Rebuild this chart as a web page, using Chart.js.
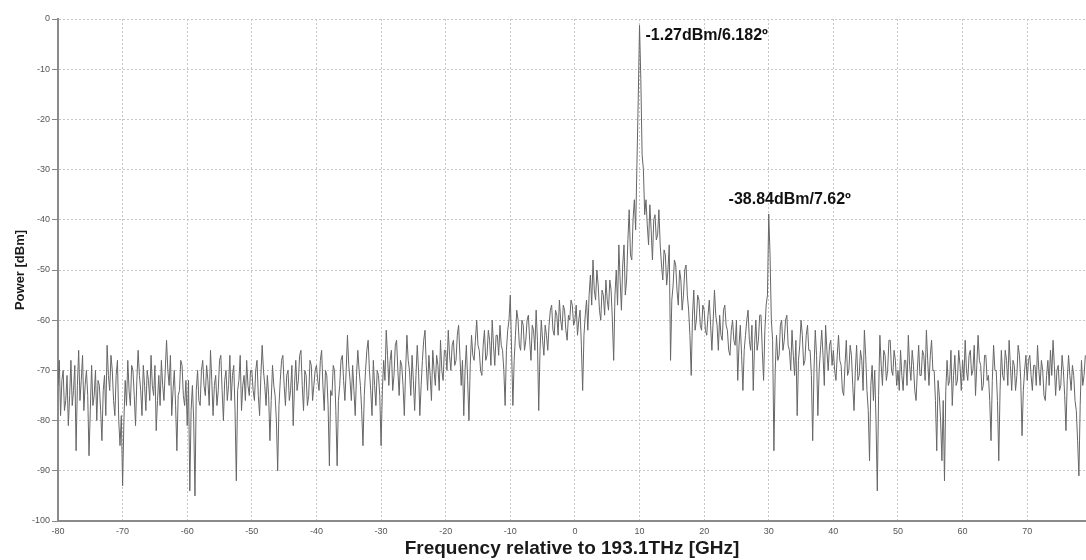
<!DOCTYPE html>
<html>
<head>
<meta charset="utf-8">
<title>Spectrum</title>
<script src="https://cdn.jsdelivr.net/npm/chart.js@4"></script>
<style>
  html, body { margin: 0; padding: 0; background: #fff; }
  #wrap { width: 1086px; height: 560px; }
</style>
</head>
<body>
<div id="wrap"><canvas id="spectrum" width="1086" height="560"></canvas></div>
<script>
// Sweep start and bin spacing (GHz, relative to 193.1 THz)
const freqStart = -80;
const freqStep = 0.2;

// Power per bin in dBm, one row per 10 GHz
const powerDbm = [
  -73, -68, -79, -72, -70, -78, -76, -71, -81, -75, -68, -77, -74, -69, -86, -73, -66, -76, -72, -67, -78, -73, -70, -75, -87, -78, -69, -77, -75, -70, -80, -72, -73, -78, -84, -74, -71, -79, -65, -71, -74, -67, -70, -76, -79, -71, -68, -80, -85, -79,
  -93, -80, -72, -77, -68, -74, -77, -69, -70, -75, -81, -72, -66, -71, -74, -79, -69, -73, -78, -70, -72, -76, -67, -73, -75, -69, -82, -76, -71, -77, -68, -73, -76, -70, -64, -70, -73, -67, -79, -74, -70, -77, -86, -75, -74, -68, -69, -75, -77, -72,
  -81, -72, -94, -78, -73, -80, -95, -74, -70, -76, -77, -70, -68, -73, -75, -69, -72, -77, -66, -72, -79, -73, -71, -77, -74, -68, -67, -74, -80, -72, -70, -76, -73, -67, -76, -71, -69, -78, -92, -74, -72, -67, -78, -73, -71, -76, -68, -73, -75, -70,
  -70, -74, -76, -70, -68, -75, -79, -71, -65, -70, -73, -77, -71, -75, -84, -76, -69, -73, -75, -80, -90, -77, -72, -68, -67, -73, -77, -71, -70, -76, -74, -69, -81, -73, -68, -74, -72, -67, -66, -73, -78, -70, -71, -77, -75, -68, -69, -76, -73, -70,
  -69, -72, -74, -68, -66, -73, -78, -70, -71, -77, -89, -74, -75, -69, -70, -78, -89, -76, -73, -68, -67, -72, -76, -70, -63, -69, -72, -76, -69, -74, -79, -71, -66, -70, -73, -78, -85, -75, -70, -66, -64, -70, -74, -79, -68, -73, -77, -70, -71, -75,
  -85, -74, -68, -72, -62, -67, -73, -68, -66, -74, -71, -65, -64, -70, -75, -68, -69, -73, -79, -70, -63, -68, -70, -75, -67, -72, -78, -71, -65, -70, -79, -73, -68, -64, -62, -69, -74, -67, -71, -76, -66, -70, -73, -67, -69, -74, -64, -70, -72, -66,
  -66, -70, -62, -67, -70, -65, -64, -69, -68, -63, -61, -67, -73, -68, -79, -70, -65, -72, -80, -69, -63, -67, -68, -64, -60, -65, -66, -70, -71, -65, -62, -68, -67, -62, -64, -69, -60, -65, -69, -63, -63, -67, -61, -65, -66, -70, -77, -66, -62, -60,
  -55, -66, -77, -68, -63, -58, -60, -65, -66, -60, -61, -66, -64, -60, -59, -64, -68, -61, -62, -66, -58, -64, -78, -66, -60, -64, -67, -61, -63, -66, -61, -58, -57, -62, -63, -58, -59, -63, -56, -60, -62, -57, -58, -62, -64, -59, -60, -56, -57, -61,
  -60, -57, -63, -60, -58, -65, -74, -63, -59, -56, -62, -55, -51, -57, -48, -54, -56, -50, -53, -58, -60, -54, -55, -59, -52, -56, -58, -52, -54, -60, -68, -55, -50, -57, -45, -52, -58, -49, -45, -55, -52, -44, -38, -47, -48, -40, -36, -42, -29, -16,
  -1.27, -12, -27, -30, -39, -36, -41, -45, -37, -42, -48, -40, -39, -44, -43, -38, -45, -49, -52, -46, -47, -53, -50, -45, -68, -56, -53, -48, -49, -54, -57, -50, -52, -58, -55, -50, -49, -55, -58, -63, -71, -59, -54, -62, -60, -55, -56, -61, -62, -57,
  -58, -62, -63, -59, -56, -61, -66, -60, -54, -59, -61, -66, -59, -63, -64, -58, -57, -61, -62, -66, -67, -62, -60, -64, -65, -60, -72, -65, -61, -67, -74, -66, -63, -60, -58, -64, -66, -61, -74, -65, -60, -66, -64, -59, -59, -66, -72, -62, -57, -55,
  -38.84, -47, -60, -64, -86, -70, -63, -68, -67, -61, -60, -66, -64, -60, -59, -65, -66, -70, -62, -67, -71, -64, -79, -68, -65, -60, -63, -69, -68, -63, -61, -66, -66, -71, -84, -70, -62, -67, -79, -70, -66, -62, -67, -73, -61, -66, -70, -65, -64, -69,
  -66, -70, -72, -67, -63, -68, -69, -74, -75, -69, -64, -71, -70, -65, -67, -73, -78, -70, -65, -72, -71, -66, -68, -74, -62, -67, -74, -78, -88, -73, -69, -76, -70, -80, -94, -75, -63, -69, -73, -66, -67, -72, -70, -64, -64, -70, -71, -66, -68, -73,
  -70, -74, -66, -71, -74, -68, -68, -73, -63, -69, -72, -66, -69, -74, -76, -70, -65, -71, -71, -66, -67, -72, -62, -68, -73, -67, -64, -70, -70, -76, -86, -72, -75, -80, -88, -76, -92, -74, -68, -73, -72, -66, -77, -71, -67, -73, -72, -66, -69, -74,
  -68, -72, -64, -70, -72, -67, -66, -71, -70, -65, -75, -69, -63, -68, -69, -74, -73, -67, -67, -72, -71, -76, -84, -72, -65, -70, -70, -76, -88, -74, -66, -71, -72, -66, -68, -73, -64, -69, -74, -68, -69, -74, -71, -65, -67, -72, -83, -74, -70, -67,
  -72, -68, -67, -71, -74, -69, -69, -73, -65, -70, -73, -68, -70, -75, -76, -71, -68, -73, -66, -71, -64, -69, -75, -70, -69, -74, -73, -67, -70, -75, -82, -72, -67, -71, -74, -69, -71, -76, -78, -84, -91, -77, -68, -73, -71, -67
];

// Marked carriers: frequency (GHz) and measured phase (deg)
const peakFreqs = [10, 30];
const peakPhases = ['6.182', '7.62'];

const points = powerDbm.map((p, i) => ({ x: freqStart + i * freqStep, y: p }));

// Writes "<power>dBm/<phase>º" next to each marked carrier
const peakLabels = {
  id: 'peakLabels',
  afterDatasetsDraw(chart, args, opts) {
    const { ctx, scales: { x, y } } = chart;
    ctx.save();
    ctx.font = opts.font;
    ctx.fillStyle = opts.color;
    ctx.textBaseline = 'middle';
    peakFreqs.forEach((f, k) => {
      const idx = Math.round((f - freqStart) / freqStep);
      const p = powerDbm[idx];
      const place = opts.place[k];
      ctx.textAlign = place.align;
      ctx.fillText(p.toFixed(2) + 'dBm/' + peakPhases[k] + 'º',
        x.getPixelForValue(f) + place.dx, y.getPixelForValue(p) + place.dy);
    });
    ctx.restore();
  }
};

const tickFont = { family: 'Liberation Sans, Arial, sans-serif', size: 9 };
const gridColor = '#c6c6c6';

new Chart(document.getElementById('spectrum'), {
  type: 'line',
  data: {
    datasets: [{
      data: points,
      borderColor: '#666666',
      borderWidth: 1,
      pointRadius: 0,
      tension: 0,
      fill: false
    }]
  },
  options: {
    responsive: false,
    animation: false,
    layout: { padding: { top: 19, right: 0, left: 0, bottom: 0 } },
    plugins: {
      legend: { display: false },
      tooltip: { enabled: false },
      peakLabels: {
        font: 'bold 16px "Liberation Sans", Arial, sans-serif',
        color: '#111',
        place: [
          { dx: 6, dy: 10, align: 'left' },
          { dx: 21, dy: -14, align: 'center' }
        ]
      }
    },
    scales: {
      x: {
        type: 'linear',
        min: -80,
        max: 79.1,
        afterFit: s => { s.height = 39; },
        ticks: { stepSize: 10, includeBounds: false, font: tickFont, color: '#555', padding: 5, maxRotation: 0 },
        grid: { color: gridColor, drawTicks: false },
        border: { color: '#8a8a8a', width: 2, dash: [2, 2] },
        title: {
          display: true,
          text: 'Frequency relative to 193.1THz [GHz]',
          color: '#1a1a1a',
          font: { family: 'Liberation Sans, Arial, sans-serif', size: 19, weight: 'bold' },
          padding: { top: 0, bottom: 0 }
        }
      },
      y: {
        min: -100,
        max: 0,
        afterFit: s => { s.width = 58; },
        ticks: { stepSize: 10, font: tickFont, color: '#555', padding: 2 },
        grid: { color: gridColor, tickLength: 6, tickColor: '#888', tickBorderDash: [] },
        border: { color: '#8a8a8a', width: 2, dash: [2, 2] },
        title: {
          display: true,
          text: 'Power [dBm]',
          color: '#1a1a1a',
          font: { family: 'Liberation Sans, Arial, sans-serif', size: 13, weight: 'bold' },
          padding: { top: 13, bottom: 0 }
        }
      }
    }
  },
  plugins: [peakLabels]
});
</script>
</body>
</html>
